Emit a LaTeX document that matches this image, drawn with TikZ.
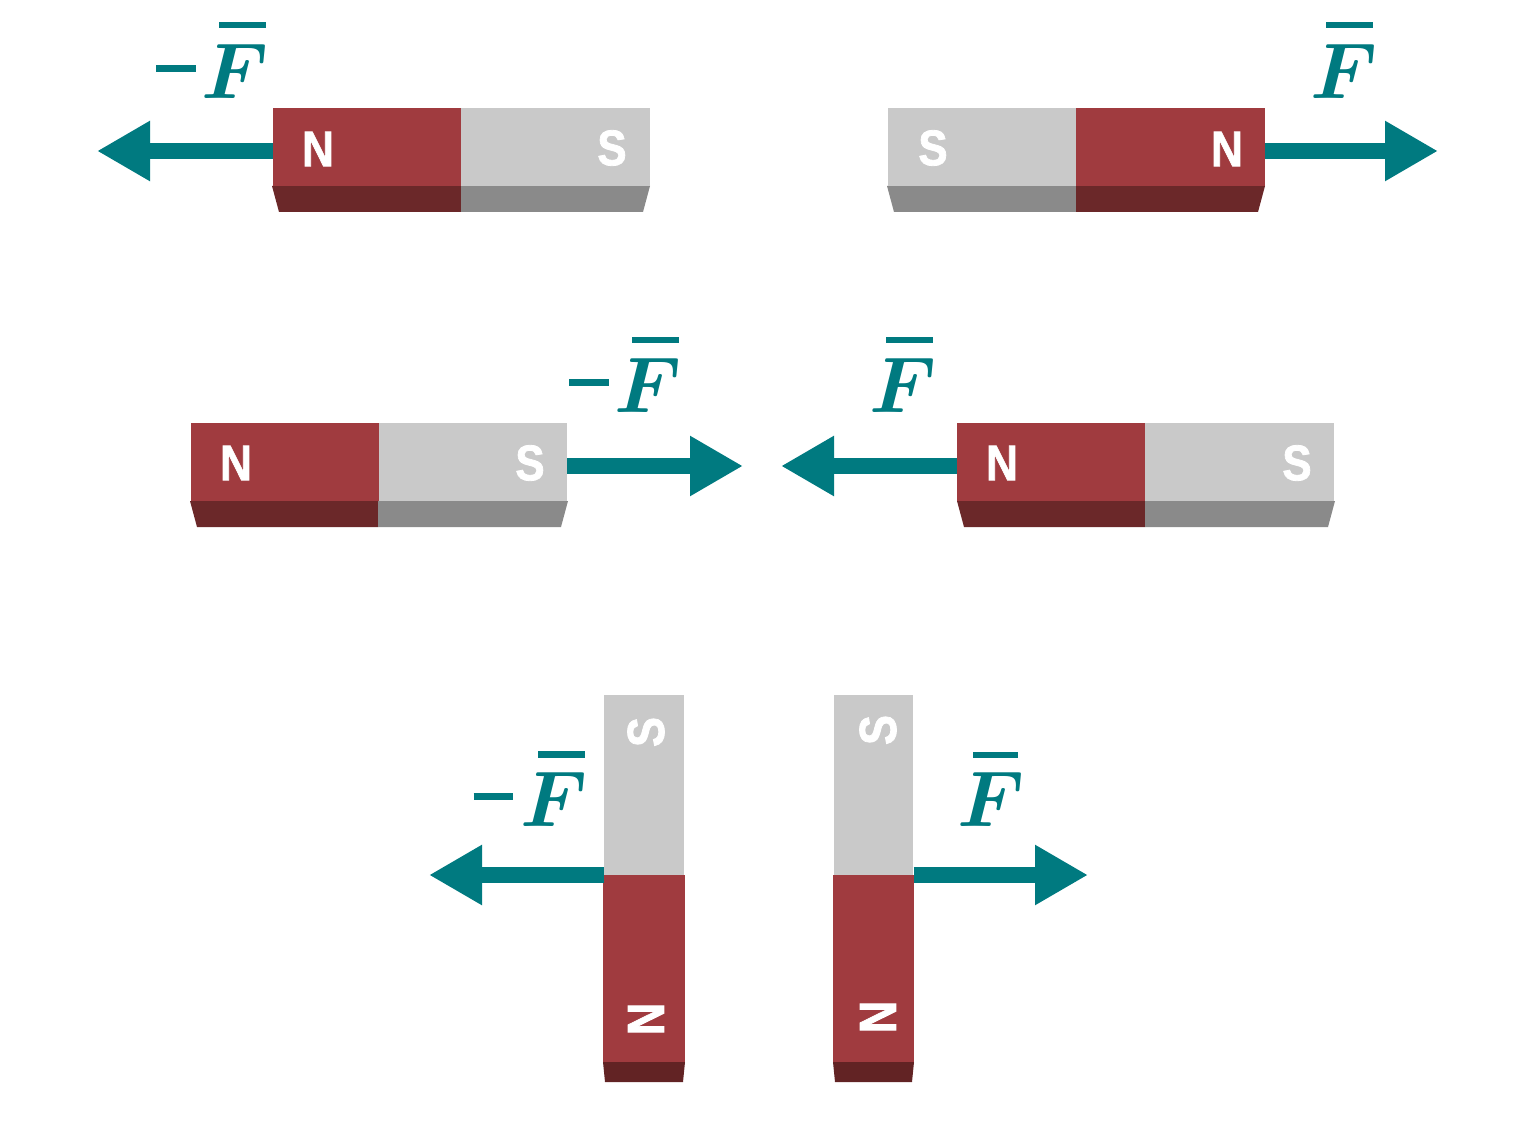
\documentclass[tikz,border=0pt]{standalone}
\usepackage{amsmath,amssymb}
\usepackage{fontspec}
\setmainfont{Liberation Sans}
\newfontfamily\polefont[FakeBold=1.6]{Liberation Sans Bold}
\usetikzlibrary{arrows.meta}
\definecolor{magred}{HTML}{A03B3F}
\definecolor{magreddark}{HTML}{6B2829}
\definecolor{magredvert}{HTML}{622324}
\definecolor{maggray}{HTML}{C9C9C9}
\definecolor{maggraydark}{HTML}{8A8A8A}
\definecolor{forceteal}{HTML}{007A80}
\tikzset{
  hpole/.style={draw=none,inner sep=0pt,minimum width=188.5pt,minimum height=78pt,anchor=north west},
  vpole/.style={draw=none,inner sep=0pt,anchor=north west},
  polelabel/.style={text=white,inner sep=0pt,font=\polefont\fontsize{50}{50}\selectfont,xscale=0.88},
  vlabel/.style={text=white,inner sep=0pt,font=\polefont\fontsize{50}{50}\selectfont,xscale=1.04,yscale=0.9,rotate=90},
  force/.style={draw=forceteal,line width=15.5pt,-{Triangle[length=53pt 0 0,width=56.5pt 0 0,fill=forceteal]},shorten >=-1pt},
  flabel/.style={text=forceteal,inner sep=0pt,anchor=base west,scale=7.9},
  mlabel/.style={text=forceteal,inner sep=0pt,anchor=center,xscale=0.72,yscale=5.8},
  fbar/.style={fill=forceteal,draw=none}
}
\newcommand{\Fsym}{$\boldsymbol{F}$}
\begin{document}
\begin{tikzpicture}[x=1pt,y=-1pt]
\useasboundingbox (0,0) rectangle (1521,1123);
% --- row 1 left
\fill[magreddark] (272,186) -- (279,212) -- (461,212) -- (461,186) -- cycle;
\fill[maggraydark] (461,186) -- (461,212) -- (643,212) -- (650,186) -- cycle;
\node[hpole,fill=magred] (a1) at (272.5,108) {};
\node[hpole,fill=maggray] (a2) at (461,108) {};
\node[polelabel] (a1t) at (318,149) {N};
\node[polelabel] (a2t) at (612,148) {S};
\coordinate (a3) at (98,151);
\draw[force] (a1.west |- a3) -- (a3);
% --- row 1 right
\fill[maggraydark] (887,186) -- (894,212) -- (1076,212) -- (1076,186) -- cycle;
\fill[magreddark] (1076,186) -- (1076,212) -- (1258,212) -- (1265,186) -- cycle;
\node[hpole,fill=maggray] (b1) at (887.5,108) {};
\node[hpole,fill=magred] (b2) at (1076,108) {};
\node[polelabel] (b1t) at (933,148) {S};
\node[polelabel] (b2t) at (1227,149) {N};
\coordinate (b3) at (1437,151);
\draw[force] (b2.east |- b3) -- (b3);
% --- row 2 left
\fill[magreddark] (190,501) -- (197,527) -- (378,527) -- (378,501) -- cycle;
\fill[maggraydark] (378,501) -- (378,527) -- (561,527) -- (568,501) -- cycle;
\node[hpole,fill=magred] (c1) at (190.5,423) {};
\node[hpole,fill=maggray] (c2) at (378.5,423) {};
\node[polelabel] (c1t) at (236,463) {N};
\node[polelabel] (c2t) at (530,463) {S};
\coordinate (c3) at (742,466);
\draw[force] (c2.east |- c3) -- (c3);
% --- row 2 right
\fill[magreddark] (957,501) -- (964,527) -- (1145,527) -- (1145,501) -- cycle;
\fill[maggraydark] (1145,501) -- (1145,527) -- (1328,527) -- (1335,501) -- cycle;
\node[hpole,fill=magred] (d1) at (957,423) {};
\node[hpole,fill=maggray] (d2) at (1145,423) {};
\node[polelabel] (d1t) at (1002,463) {N};
\node[polelabel] (d2t) at (1297,463) {S};
\coordinate (d3) at (782,466);
\draw[force] (d1.west |- d3) -- (d3);
% --- row 3 left
\fill[magredvert] (603,1062) -- (605,1082) -- (683,1082) -- (685,1062) -- cycle;
\node[vpole,fill=maggray,minimum width=80pt,minimum height=181pt] (e1) at (604,694.5) {};
\node[vpole,fill=magred,minimum width=81.5pt,minimum height=187pt] (e2) at (603.2,875) {};
\node[vlabel] (e1t) at (646,732) {S};
\node[vlabel] (e2t) at (646,1019) {N};
\coordinate (e3) at (430,875);
\draw[force] (e1.west |- e3) -- (e3);
% --- row 3 right
\fill[magredvert] (833,1062) -- (835,1082) -- (912,1082) -- (914,1062) -- cycle;
\node[vpole,fill=maggray,minimum width=79.5pt,minimum height=181pt] (f1) at (833.7,694.5) {};
\node[vpole,fill=magred,minimum width=81pt,minimum height=187pt] (f2) at (833,875) {};
\node[vlabel] (f1t) at (878,730) {S};
\node[vlabel] (f2t) at (878,1017) {N};
\coordinate (f3) at (1087,875);
\draw[force] (f1.east |- f3) -- (f3);
% --- force labels
\node[flabel] (g1) at (200,98.5) {\Fsym};
\node[mlabel] (g2) at (176,68.5) {\rule{55pt}{1.2pt}};
\fill[fbar] (219,22) rectangle (266,28);
\node[flabel] (h1) at (1309,98.5) {\Fsym};
\fill[fbar] (1326,22) rectangle (1373,28);
\node[flabel] (i1) at (613,412.5) {\Fsym};
\node[mlabel] (i2) at (589,382.5) {\rule{55pt}{1.2pt}};
\fill[fbar] (632,337) rectangle (679,343);
\node[flabel] (j1) at (868,412.5) {\Fsym};
\fill[fbar] (886,337) rectangle (933,343);
\node[flabel] (k1) at (518.5,826.5) {\Fsym};
\node[mlabel] (k2) at (493.5,796.5) {\rule{55pt}{1.2pt}};
\fill[fbar] (538,751) rectangle (585,758);
\node[flabel] (l1) at (956,826.5) {\Fsym};
\fill[fbar] (973,752) rectangle (1018,758);
\end{tikzpicture}
\end{document}
